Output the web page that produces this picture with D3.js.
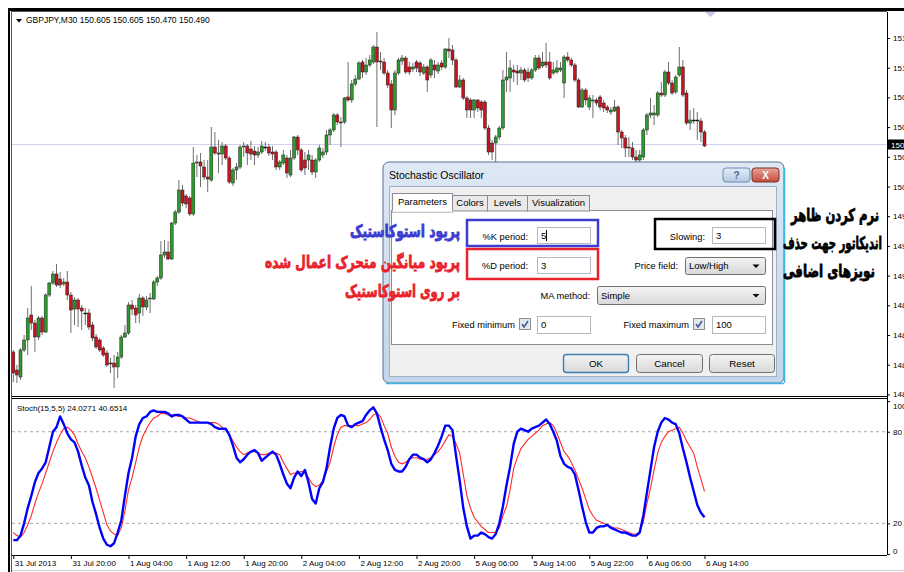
<!DOCTYPE html>
<html>
<head>
<meta charset="utf-8">
<title>GBPJPY M30 - Stochastic Oscillator</title>
<script src="https://d3js.org/d3.v7.min.js"></script>
<style>
  body { margin: 0; background: #fff; }
  text { font-family: "Liberation Sans", Arial, sans-serif; }
</style>
</head>
<body>
<script>
// ---- candles GBPJPY M30 (bar 0 = 31 Jul 2013 12:00, bar 192 = 6 Aug 14:00) ----
var opens = [
  148.43,148.25,148.18,148.45,148.55,148.80,148.72,148.58,148.77,148.63,
  149.00,149.12,149.21,149.16,149.11,149.13,149.00,148.86,148.95,148.87,
  148.82,148.82,148.70,148.58,148.55,148.47,148.42,148.32,148.32,148.28,
  148.38,148.58,148.62,148.90,148.87,148.82,148.97,148.88,148.96,148.96,
  149.13,149.17,149.40,149.43,149.36,149.72,149.83,150.05,149.99,149.97,
  149.81,150.32,150.33,150.28,150.18,150.15,150.48,150.42,150.41,150.49,
  150.37,150.12,150.25,150.28,150.48,150.49,150.46,150.44,150.40,150.43,
  150.48,150.48,150.43,150.43,150.28,150.32,150.37,150.20,150.37,150.58,
  150.45,150.35,150.35,150.35,150.23,150.35,150.40,150.43,150.60,150.65,
  150.80,150.73,150.73,150.98,150.95,151.11,151.16,151.33,151.23,151.30,
  151.33,151.48,151.34,151.33,151.22,151.11,150.85,151.22,151.34,151.37,
  151.28,151.26,151.33,151.32,151.22,151.28,151.20,151.30,151.24,151.32,
  151.28,151.46,151.45,151.35,151.08,151.15,150.97,150.95,150.85,150.95,
  150.93,150.93,150.67,150.52,150.52,150.58,150.67,151.15,151.17,151.25,
  151.24,151.22,151.25,151.23,151.17,151.25,151.37,151.29,151.33,151.33,
  151.22,151.23,151.25,151.12,151.38,151.35,151.30,151.15,150.88,151.05,
  150.88,150.94,150.95,150.98,150.92,150.88,150.83,150.84,150.88,150.63,
  150.57,150.48,150.47,150.38,150.35,150.38,150.65,150.80,150.80,150.80,
  151.02,151.00,151.23,151.12,151.03,151.20,151.28,151.02,150.72,150.75,
  150.75,150.74,150.63
]
var highs = [
  148.45,148.30,148.47,148.60,148.87,149.09,148.75,148.79,148.79,149.02,
  149.13,149.24,149.31,149.23,149.17,149.24,149.03,148.98,148.97,148.90,
  148.87,148.86,148.73,148.61,148.57,148.49,148.45,148.37,148.40,148.43,
  148.60,148.70,148.93,148.95,148.90,149.01,148.99,148.99,149.02,149.15,
  149.19,149.54,149.55,149.54,149.73,149.85,150.15,150.10,150.01,149.99,
  150.48,150.40,150.42,150.35,150.35,150.68,150.63,150.55,150.53,150.51,
  150.39,150.27,150.32,150.50,150.53,150.51,150.54,150.49,150.48,150.54,
  150.53,150.51,150.49,150.45,150.35,150.45,150.40,150.45,150.59,150.60,
  150.47,150.43,150.45,150.40,150.37,150.50,150.47,150.65,150.67,150.82,
  150.82,150.78,150.98,151.33,151.15,151.20,151.34,151.35,151.37,151.40,
  151.50,151.63,151.43,151.37,151.25,151.15,151.25,151.37,151.40,151.39,
  151.33,151.32,151.35,151.34,151.31,151.30,151.37,151.35,151.33,151.35,
  151.47,151.57,151.50,151.37,151.20,151.17,150.99,150.97,150.96,150.96,
  150.95,150.95,150.70,150.55,150.60,150.69,151.25,151.43,151.35,151.30,
  151.30,151.28,151.27,151.27,151.27,151.40,151.40,151.43,151.52,151.43,
  151.33,151.35,151.33,151.40,151.43,151.37,151.32,151.17,151.07,151.07,
  151.00,151.00,150.97,151.00,150.95,150.90,150.88,150.95,150.90,150.65,
  150.60,150.58,150.53,150.45,150.45,150.67,150.82,150.97,150.90,151.04,
  151.13,151.25,151.33,151.15,151.20,151.48,151.35,151.05,150.85,150.87,
  150.83,150.77,150.65
]
var lows = [
  148.13,148.12,148.15,148.43,148.40,148.65,148.43,148.55,148.60,148.62,
  148.98,149.10,149.08,149.07,149.09,148.95,148.62,148.70,148.68,148.65,
  148.70,148.65,148.54,148.46,148.43,148.38,148.28,148.22,148.07,148.17,
  148.36,148.57,148.60,148.80,148.72,148.72,148.79,148.85,148.82,148.95,
  149.09,149.15,149.37,149.35,149.35,149.70,149.81,149.89,149.87,149.79,
  149.79,150.18,150.08,150.15,150.03,150.13,150.40,150.22,150.30,150.35,
  150.11,150.09,150.15,150.26,150.38,150.30,150.35,150.30,150.37,150.41,
  150.44,150.39,150.35,150.25,150.25,150.30,150.17,150.18,150.35,150.40,
  150.23,150.20,150.25,150.20,150.17,150.33,150.37,150.40,150.50,150.63,
  150.70,150.48,150.71,150.93,150.92,151.09,151.15,151.17,151.20,151.28,
  151.31,150.68,151.25,151.20,151.07,150.67,150.80,151.20,151.30,151.21,
  151.20,151.23,151.23,151.19,151.20,151.03,151.17,151.17,151.21,151.25,
  151.26,151.37,151.30,151.07,151.07,150.95,150.77,150.77,150.77,150.83,
  150.77,150.65,150.40,150.35,150.32,150.55,150.65,151.03,151.03,151.13,
  151.10,151.15,151.13,151.13,151.15,151.23,151.25,151.27,151.27,151.15,
  151.20,151.21,151.23,150.97,151.33,151.28,151.13,150.87,150.87,150.90,
  150.85,150.77,150.89,150.85,150.83,150.82,150.80,150.83,150.50,150.47,
  150.38,150.38,150.35,150.32,150.32,150.35,150.60,150.77,150.70,150.78,
  150.98,150.98,151.10,151.00,151.01,151.18,150.98,150.70,150.65,150.71,
  150.55,150.53,150.48
]
var closes = [
  148.22,148.20,148.45,148.55,148.77,148.72,148.58,148.77,148.63,149.00,
  149.12,149.21,149.10,149.10,149.13,149.00,148.85,148.95,148.86,148.84,
  148.82,148.68,148.57,148.48,148.45,148.40,148.30,148.31,148.28,148.38,
  148.58,148.62,148.90,148.86,148.80,148.97,148.88,148.95,148.97,149.13,
  149.17,149.40,149.43,149.36,149.72,149.83,150.05,149.92,149.91,149.81,
  150.32,150.33,150.29,150.18,150.16,150.48,150.42,150.41,150.49,150.37,
  150.13,150.25,150.28,150.48,150.49,150.42,150.41,150.40,150.43,150.49,
  150.48,150.42,150.41,150.28,150.33,150.40,150.22,150.37,150.58,150.45,
  150.25,150.27,150.40,150.23,150.35,150.47,150.43,150.60,150.65,150.80,
  150.73,150.72,150.97,150.95,151.11,151.16,151.32,151.23,151.30,151.35,
  151.48,151.33,151.33,151.22,151.10,150.85,151.22,151.35,151.37,151.23,
  151.23,151.28,151.27,151.23,151.28,151.15,151.35,151.25,151.30,151.28,
  151.46,151.44,151.35,151.08,151.15,150.97,150.85,150.85,150.95,150.87,
  150.85,150.67,150.43,150.43,150.58,150.67,151.15,151.18,151.27,151.23,
  151.22,151.25,151.15,151.17,151.25,151.37,151.27,151.33,151.30,151.17,
  151.25,151.27,151.27,151.38,151.35,151.30,151.15,150.88,151.05,150.95,
  150.97,150.95,150.92,150.88,150.87,150.85,150.85,150.88,150.63,150.57,
  150.47,150.47,150.38,150.35,150.40,150.65,150.80,150.82,150.82,151.02,
  151.00,151.23,151.12,151.02,151.18,151.28,151.00,150.72,150.75,150.75,
  150.75,150.63,150.49
]

// ---- Stoch(15,5,5): main %K (blue) and signal %D (red) ----
var stochK = [
  9,9,12,20,30,38,47,53,56,60,  70,80,83,90,85,79,75,73,67,58,
  50,45,34,26,17,10,6,5,7,14,  22,38,53,63,77,85,89,90,93,94,
  93,93,93,92,90,91,91,90,88,86,  86,86,86,86,86,85,83,82,82,82,
  78,71,63,60,62,65,67,68,66,61,  63,65,67,65,59,52,46,43,50,54,
  51,55,47,36,33,43,47,56,70,82,  89,91,90,84,83,85,86,87,91,94,
  96,92,83,75,68,59,55,54,54,57,  62,65,65,63,62,60,62,66,71,77,
  84,84,81,64,48,30,18,10,12,12,  14,13,11,10,13,20,31,45,57,72,
  80,82,81,80,82,83,84,86,88,85,  80,74,64,59,57,56,52,42,31,21,
  14,14,17,18,18,19,17,16,15,14,  14,13,12,12,14,25,40,55,70,80,
  86,89,88,86,85,79,69,60,50,41,  32,27,24
]
var stochD = [
  14,12,11,14,19,25,33,40,46,53,  60,67,73,78,82,83,81,78,72,67,
  63,57,50,43,35,27,19,15,13,12,  17,28,42,50,60,70,77,82,86,89,
  90,92,92,91,91,91,90,90,89,89,  88,87,86,86,86,86,86,85,83,81,
  78,74,70,67,65,66,67,67,66,65,  65,66,66,66,65,60,56,52,53,53,
  54,53,50,46,44,45,48,54,60,70,  78,83,84,84,84,84,84,85,86,88,
  91,92,90,84,79,70,64,60,59,60,  62,63,63,62,62,62,63,65,67,70,
  74,78,77,72,66,52,38,30,24,21,  18,16,14,14,14,17,25,31,42,56,
  63,69,72,75,77,79,81,84,85,86,  84,79,73,67,64,60,55,49,43,36,
  29,25,22,21,20,19,18,17,17,16,  15,14,13,13,14,21,33,43,55,66,
  73,77,80,81,82,83,79,74,70,66,  57,49,41
]
var stochLevels = [80, 20]

// ---- axis labels ----
var priceTicks = [151.570,151.273,150.976,150.679,150.382,150.085,149.788,149.491,149.194,148.897,148.600,148.303,148.006]
var stochTicks = [100, 80, 20, 0]
var timeBars = [0,16,32,48,64,80,96,112,128,144,160,176,192]
var timeLabels = ["31 Jul 2013","31 Jul 20:00","1 Aug 04:00","1 Aug 12:00","1 Aug 20:00","2 Aug 04:00",
  "2 Aug 12:00","2 Aug 20:00","5 Aug 06:00","5 Aug 14:00","5 Aug 22:00","6 Aug 06:00","6 Aug 14:00"]
var headerText = "GBPJPY,M30  150.605 150.605 150.470 150.490"
var stochText = "Stoch(15,5,5) 24.0271 40.6514"

// ---- annotations (fa) ----
var noteBlue = "پریود استوکاستیک"
var noteRed = ["پریود میانگین متحرک اعمال شده", "بر روی استوکاستیک"]
var noteBlack = ["نرم کردن ظاهر", "اندیکاتور جهت حذف", "نویزهای اضافی"]

var W = 904, H = 572
var L = 12, R = 887, priceTop = 12, priceBot = 396, stTop = 400, stBot = 555

var svg = d3.select("body").append("svg").attr("width", W).attr("height", H)
var defs = svg.append("defs")

var x = d3.scaleLinear().domain([0, 192]).range([13.3, 704.5])
var y = d3.scaleLinear().domain([148, 151.95]).range([395, 0])
var ys = d3.scaleLinear().domain([0, 100]).range([553.9, 401.2])

defs.append("clipPath").attr("id", "clipP").append("rect")
  .attr("x", L).attr("y", priceTop).attr("width", R - L).attr("height", priceBot - priceTop)
defs.append("clipPath").attr("id", "clipS").append("rect")
  .attr("x", L).attr("y", stTop).attr("width", R - L).attr("height", stBot - stTop)

// frame
svg.append("rect").attr("x", 8).attr("y", 8).attr("width", W - 8).attr("height", 3).attr("fill", "#000")
svg.append("rect").attr("x", 8).attr("y", 8).attr("width", 2).attr("height", H - 8).attr("fill", "#000")
svg.append("line").attr("x1", 11.5).attr("x2", 11.5).attr("y1", 11).attr("y2", H).attr("stroke", "#555")
svg.append("line").attr("x1", 11).attr("x2", R).attr("y1", 11.5).attr("y2", 11.5).attr("stroke", "#555")
svg.append("line").attr("x1", L).attr("x2", R).attr("y1", priceBot + 0.5).attr("y2", priceBot + 0.5).attr("stroke", "#000")
svg.append("line").attr("x1", L).attr("x2", R).attr("y1", priceBot + 2.5).attr("y2", priceBot + 2.5).attr("stroke", "#000")
svg.append("line").attr("x1", L).attr("x2", W).attr("y1", 570.5).attr("y2", 570.5).attr("stroke", "#ccc")

// ---- price pane ----
var pp = svg.append("g").attr("clip-path", "url(#clipP)")
var last = closes[closes.length - 1]
pp.append("line").attr("x1", L).attr("x2", R).attr("y1", y(last) - 1.5).attr("y2", y(last) - 1.5).attr("stroke", "#cfcff2")
pp.append("path").attr("d", "M705,12L716,12L710.5,17Z").attr("fill", "#c8c8ee")

var bars = d3.range(opens.length)
pp.selectAll("line.wick").data(bars).enter().append("line").attr("class", "wick")
  .attr("x1", i => x(i)).attr("x2", i => x(i))
  .attr("y1", i => y(highs[i])).attr("y2", i => y(lows[i]))
  .attr("stroke", "#707070").attr("stroke-width", 1)
pp.selectAll("rect.body").data(bars).enter().append("rect").attr("class", "body")
  .attr("x", i => x(i) - 1.5).attr("width", 3)
  .attr("y", i => y(Math.max(opens[i], closes[i])))
  .attr("height", i => Math.max(1, Math.abs(y(opens[i]) - y(closes[i]))))
  .attr("fill", i => closes[i] > opens[i] ? "#2e9a2e" : closes[i] < opens[i] ? "#c8141e" : "#000")
  .attr("stroke", "#222").attr("stroke-width", 0.5)

svg.append("path").attr("d", "M16,19L22,19L19,22.5Z").attr("fill", "#000")
svg.append("text").attr("x", 26).attr("y", 22.5).attr("font-size", 8.5).attr("fill", "#000").text(headerText)

// price axis
var pAxis = svg.append("g").attr("transform", `translate(${R},0)`)
  .call(d3.axisRight(y).tickValues(priceTicks).tickSize(3).tickFormat(d3.format(".3f")))
pAxis.select(".domain").remove()
pAxis.selectAll("text").attr("font-size", 8).attr("font-family", "Liberation Sans").attr("fill", "#000")
pAxis.selectAll("line").attr("stroke", "#000")
svg.append("rect").attr("x", R).attr("y", y(last) - 6.5).attr("width", W - R).attr("height", 10).attr("fill", "#000")
svg.append("text").attr("x", R + 4).attr("y", y(last) + 1.5).attr("font-size", 8).attr("fill", "#fff").text(last.toFixed(3))

// ---- stochastic pane ----
var sp = svg.append("g").attr("clip-path", "url(#clipS)")
sp.selectAll("line.lvl").data(stochLevels).enter().append("line").attr("class", "lvl")
  .attr("x1", L).attr("x2", R).attr("y1", d => ys(d)).attr("y2", d => ys(d))
  .attr("stroke", "#a8a8a8").attr("stroke-dasharray", "3,3")
sp.append("path").datum(stochD)
  .attr("d", d3.line().x((d, i) => x(i)).y(d => ys(d)))
  .attr("fill", "none").attr("stroke", "#ff2a2a").attr("stroke-width", 1.1)
sp.append("path").datum(stochK)
  .attr("d", d3.line().x((d, i) => x(i)).y(d => ys(d)))
  .attr("fill", "none").attr("stroke", "#0000ff").attr("stroke-width", 2.4).attr("stroke-linejoin", "round")
svg.append("text").attr("x", 17).attr("y", 411).attr("font-size", 8).attr("fill", "#000").text(stochText)

var sAxis = svg.append("g").attr("transform", `translate(${R},0)`)
  .call(d3.axisRight(ys).tickValues(stochTicks).tickSize(3))
sAxis.select(".domain").remove()
sAxis.selectAll("line").attr("stroke", "#000")
sAxis.selectAll("text").attr("font-size", 8).attr("font-family", "Liberation Sans").attr("fill", "#000")
  .attr("dy", d => d == 100 ? "0.85em" : d == 0 ? "-0.1em" : "0.32em")

svg.append("line").attr("x1", R + 0.5).attr("x2", R + 0.5).attr("y1", priceTop).attr("y2", stBot).attr("stroke", "#000")
svg.append("line").attr("x1", L).attr("x2", R).attr("y1", stBot + 0.5).attr("y2", stBot + 0.5).attr("stroke", "#000")

var tAxis = svg.append("g").attr("transform", `translate(0,${stBot})`)
  .call(d3.axisBottom(x).tickValues(timeBars).tickSize(4).tickFormat((d, i) => timeLabels[i]))
tAxis.select(".domain").remove()
tAxis.selectAll("line").attr("stroke", "#000")
tAxis.selectAll("text").attr("font-size", 8).attr("font-family", "Liberation Sans").attr("fill", "#000")
  .attr("text-anchor", "start").attr("dx", 1).attr("y", 5).attr("dy", "0.71em")

// ---- dialog ----
function grad(id, c1, c2) {
  var g = defs.append("linearGradient").attr("id", id).attr("x1", 0).attr("x2", 0).attr("y1", 0).attr("y2", 1)
  g.append("stop").attr("offset", "0").attr("stop-color", c1)
  g.append("stop").attr("offset", "1").attr("stop-color", c2)
}
grad("gFrame", "#dde8f4", "#c2d5ea")
grad("gBtn", "#f4f4f4", "#d8d8d8")
grad("gHelp", "#e3edf8", "#b5cae3")
grad("gClose", "#e9a597", "#c44a3e")

var dlg = svg.append("g")
dlg.append("rect").attr("x", 383).attr("y", 162).attr("width", 401).attr("height", 221).attr("rx", 6)
  .attr("fill", "url(#gFrame)").attr("stroke", "#55708f")
dlg.append("line").attr("x1", 784.5).attr("x2", 784.5).attr("y1", 168).attr("y2", 383).attr("stroke", "#3fb6e2").attr("stroke-width", 1.5)
dlg.append("line").attr("x1", 386).attr("x2", 784).attr("y1", 383.5).attr("y2", 383.5).attr("stroke", "#3fb6e2").attr("stroke-width", 1.5)
dlg.append("text").attr("x", 389).attr("y", 179).attr("font-size", 10.5).attr("fill", "#000").text("Stochastic Oscillator")
dlg.append("rect").attr("x", 723).attr("y", 168).attr("width", 27).attr("height", 14).attr("rx", 3)
  .attr("fill", "url(#gHelp)").attr("stroke", "#6a88ad")
dlg.append("text").attr("x", 736.5).attr("y", 179).attr("text-anchor", "middle").attr("font-size", 10).attr("font-weight", "bold").attr("fill", "#4a6a90").text("?")
dlg.append("rect").attr("x", 752).attr("y", 168).attr("width", 27).attr("height", 14).attr("rx", 3)
  .attr("fill", "url(#gClose)").attr("stroke", "#7d2f2a")
dlg.append("text").attr("x", 765.5).attr("y", 179).attr("text-anchor", "middle").attr("font-size", 10).attr("font-weight", "bold").attr("fill", "#fff").text("X")
dlg.append("rect").attr("x", 389.5).attr("y", 186.5).attr("width", 387).attr("height", 190)
  .attr("fill", "#f0f0f0").attr("stroke", "#9fb2c8")

// tabs
var tabs = [
  { t: "Parameters", x0: 392, x1: 452 }, { t: "Colors", x0: 452, x1: 487 },
  { t: "Levels", x0: 487, x1: 527 }, { t: "Visualization", x0: 527, x1: 589 }
]
dlg.append("rect").attr("x", 391.5).attr("y", 210.5).attr("width", 381).attr("height", 134)
  .attr("fill", "#fff").attr("stroke", "#898c95")
tabs.forEach((d, k) => {
  var top = k == 0 ? 193 : 195
  dlg.append("rect").attr("x", d.x0 + 0.5).attr("y", top + 0.5).attr("width", d.x1 - d.x0).attr("height", 210.5 - top + (k == 0 ? 1 : 0))
    .attr("fill", k == 0 ? "#fff" : "#eaeaea").attr("stroke", "#898c95")
  dlg.append("text").attr("x", (d.x0 + d.x1) / 2 + 0.5).attr("y", k == 0 ? 205 : 206).attr("text-anchor", "middle")
    .attr("font-size", 9.5).attr("fill", "#000").text(d.t)
})
dlg.append("line").attr("x1", 392.5).attr("x2", 452.5).attr("y1", 211).attr("y2", 211).attr("stroke", "#fff").attr("stroke-width", 1.5)

function label(t, xr, yb) {
  dlg.append("text").attr("x", xr).attr("y", yb).attr("text-anchor", "end").attr("font-size", 9.3).attr("fill", "#000").text(t)
}
function input(x0, y0, w, h, v) {
  dlg.append("rect").attr("x", x0 + 0.5).attr("y", y0 + 0.5).attr("width", w).attr("height", h)
    .attr("fill", "#fff").attr("stroke", "#b5b8c0")
  dlg.append("text").attr("x", x0 + 4).attr("y", y0 + h / 2 + 3.5).attr("font-size", 9.5).attr("fill", "#000").text(v)
}
function combo(x0, y0, w, h, v) {
  dlg.append("rect").attr("x", x0 + 0.5).attr("y", y0 + 0.5).attr("width", w).attr("height", h).attr("rx", 2)
    .attr("fill", "url(#gBtn)").attr("stroke", "#707070")
  dlg.append("text").attr("x", x0 + 4).attr("y", y0 + h / 2 + 3.5).attr("font-size", 9.5).attr("fill", "#000").text(v)
  var ax = x0 + w - 9, ay = y0 + h / 2 - 1
  dlg.append("path").attr("d", `M${ax - 3.5},${ay}L${ax + 3.5},${ay}L${ax},${ay + 3.5}Z`).attr("fill", "#000")
}
function check(x0, y0) {
  dlg.append("rect").attr("x", x0 + 0.5).attr("y", y0 + 0.5).attr("width", 11).attr("height", 11)
    .attr("fill", "#e4e8f0").attr("stroke", "#8e8f8f")
  dlg.append("path").attr("d", `M${x0 + 3},${y0 + 6}L${x0 + 5},${y0 + 9}L${x0 + 9},${y0 + 3}`)
    .attr("fill", "none").attr("stroke", "#4a5f97").attr("stroke-width", 1.6)
}
function button(x0, y0, w, h, t, def) {
  dlg.append("rect").attr("x", x0 + 0.5).attr("y", y0 + 0.5).attr("width", w).attr("height", h).attr("rx", 3)
    .attr("fill", "url(#gBtn)").attr("stroke", def ? "#3c7fb1" : "#707070").attr("stroke-width", def ? 1.4 : 1)
  dlg.append("text").attr("x", x0 + w / 2 + 0.5).attr("y", y0 + h / 2 + 4).attr("text-anchor", "middle")
    .attr("font-size", 9.8).attr("fill", "#000").text(t)
}

label("%K period:", 528, 239.5); input(537, 227, 53, 16, "5")
dlg.append("line").attr("x1", 546.5).attr("x2", 546.5).attr("y1", 230).attr("y2", 241).attr("stroke", "#000")
label("%D period:", 528, 268.5); input(537, 257, 53, 16, "3")
label("Slowing:", 705, 239.5); input(712, 227, 53, 16, "3")
label("Price field:", 678, 269); combo(685, 257, 80, 17, "Low/High")
label("MA method:", 590, 298.5); combo(597, 286, 168, 18, "Simple")
label("Fixed minimum", 515, 327.5); check(519, 318); input(537, 316, 53, 17, "0")
label("Fixed maximum", 689, 327.5); check(693, 318); input(712, 316, 53, 17, "100")
button(563, 354, 65, 18, "OK", true)
button(636, 354, 66, 18, "Cancel", false)
button(709, 354, 65, 18, "Reset", false)

// highlight boxes
dlg.append("rect").attr("x", 467).attr("y", 220).attr("width", 131).attr("height", 26)
  .attr("fill", "none").attr("stroke", "#3c3cd0").attr("stroke-width", 2.5)
dlg.append("rect").attr("x", 467).attr("y", 249).attr("width", 131).attr("height", 30)
  .attr("fill", "none").attr("stroke", "#e8232b").attr("stroke-width", 2.5)
dlg.append("rect").attr("x", 655).attr("y", 219).attr("width", 120).attr("height", 30)
  .attr("fill", "none").attr("stroke", "#000").attr("stroke-width", 2.5)

// annotations (bold, squeezed to the widths seen in the screenshot)
var ann = svg.append("g").attr("font-weight", "bold").attr("text-anchor", "end")
function note(t, xr, yb, w, col) {
  ann.append("text").attr("x", xr).attr("y", yb).attr("font-size", 17)
    .attr("textLength", w).attr("lengthAdjust", "spacingAndGlyphs")
    .attr("fill", col).attr("stroke", col).attr("stroke-width", 0.8)
    .style("font-family", "DejaVu Sans").text(t)
}
note(noteBlue, 460, 237, 110, "#3c3cd0")
note(noteRed[0], 460, 268, 195, "#e8232b")
note(noteRed[1], 460, 297, 115, "#e8232b")
note(noteBlack[0], 879, 221, 88, "#000")
note(noteBlack[1], 882, 249, 99, "#000")
note(noteBlack[2], 875, 277, 92, "#000")
</script>
</body>
</html>
